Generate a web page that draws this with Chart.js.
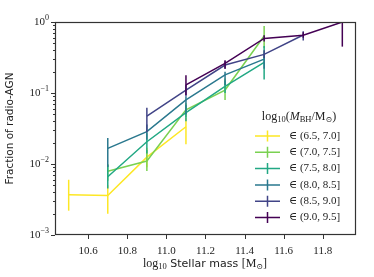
<!DOCTYPE html>
<html>
<head>
<meta charset="utf-8">
<script src="https://cdn.jsdelivr.net/npm/chart.js@4.4.0/dist/chart.umd.min.js"></script>
<style>
  html, body { margin: 0; padding: 0; background: #fff; }
  #wrap { width: 374px; height: 277px; }
</style>
</head>
<body>
<div id="wrap"><canvas id="c"></canvas></div>
<script>
// radio-AGN fraction vs stellar mass, split in black-hole mass bins
const massBins = [10.5, 10.7, 10.9, 11.1, 11.3, 11.5, 11.7, 11.9];
const xTicks = [10.6, 10.8, 11.0, 11.2, 11.4, 11.6, 11.8];
const yTicks = [0.001, 0.01, 0.1, 1];
const yTickExp = ['\u22123', '\u22122', '\u22121', '0'];
const bhBins = ['(6.5, 7.0]', '(7.0, 7.5]', '(7.5, 8.0]', '(8.0, 8.5]', '(8.5, 9.0]', '(9.0, 9.5]'];
const bhColors = ['#fde725', '#7ad151', '#22a884', '#2a788e', '#414487', '#440154'];

// null = empty bin
const frac65 = [0.0037, 0.0036, 0.0125, 0.0335, null, null, null, null];
const lo65   = [0.0022, 0.0020, 0.0090, 0.019, null, null, null, null];
const hi65   = [0.0060, 0.0050, 0.0170, 0.045, null, null, null, null];

const frac70 = [null, 0.0079, 0.011, 0.058, 0.11, 0.635, null, null];
const lo70   = [null, 0.0058, 0.0080, 0.046, 0.08, 0.43, null, null];
const hi70   = [null, 0.0100, 0.0158, 0.072, 0.16, 0.88, null, null];

const frac75 = [null, 0.0066, 0.0206, 0.053, 0.124, 0.27, null, null];
const lo75   = [null, 0.0045, 0.014, 0.040, 0.10, 0.155, null, null];
const hi75   = [null, 0.0097, 0.027, 0.068, 0.15, 0.46, null, null];

const frac80 = [null, 0.0166, 0.0285, 0.080, 0.18, 0.30, null, null];
const lo80   = [null, 0.0091, 0.022, 0.050, 0.13, 0.22, null, null];
const hi80   = [null, 0.0233, 0.036, 0.090, 0.20, 0.36, null, null];

const frac85 = [null, null, 0.0474, 0.11, 0.248, 0.35, 0.656, null];
const lo85   = [null, null, 0.028, 0.09, 0.22, 0.31, 0.55, null];
const hi85   = [null, null, 0.062, 0.13, 0.28, 0.40, 0.74, null];

const frac90 = [null, null, null, 0.13, 0.262, 0.586, 0.65, 1.0];
const lo90   = [null, null, null, 0.094, 0.22, 0.53, 0.60, 0.45];
const hi90   = [null, null, null, 0.178, 0.29, 0.65, 0.72, 1.0];

const fracs = [frac65, frac70, frac75, frac80, frac85, frac90];
const los = [lo65, lo70, lo75, lo80, lo85, lo90];
const his = [hi65, hi70, hi75, hi80, hi85, hi90];

const SERIF = '"Liberation Serif", "DejaVu Serif", serif';
const SANS = '"DejaVu Sans", sans-serif';
const INK = '#222';

const datasets = fracs.map((f, i) => ({
  label: bhBins[i],
  data: massBins.map((m, j) => ({ x: m, y: f[j] })).filter(p => p.y !== null),
  lo: massBins.map((m, j) => ({ x: m, y: los[i][j] })).filter(p => p.y !== null),
  hi: massBins.map((m, j) => ({ x: m, y: his[i][j] })).filter(p => p.y !== null),
  borderColor: bhColors[i],
  borderWidth: 1.5,
  pointRadius: 0,
  fill: false,
  order: bhColors.length - 1 - i, // last bin on top, like matplotlib
}));

// draw a row of text pieces: [text, font, dy]
function drawRuns(ctx, runs, x, y, align) {
  let w = 0;
  runs.forEach(r => { ctx.font = r[1]; w += ctx.measureText(r[0]).width; });
  let cx = align === 'center' ? x - w / 2 : (align === 'right' ? x - w : x);
  ctx.textAlign = 'left';
  runs.forEach(r => {
    ctx.font = r[1];
    ctx.fillText(r[0], cx, y + (r[2] || 0));
    cx += ctx.measureText(r[0]).width;
  });
}

const errorBars = {
  id: 'errorBars',
  afterDatasetDraw(chart, args) {
    const ds = chart.data.datasets[args.index];
    const { ctx, chartArea: a } = chart;
    const xs = chart.scales.x, ys = chart.scales.y;
    ctx.save();
    ctx.beginPath();
    ctx.rect(a.left, a.top, a.right - a.left, a.bottom - a.top);
    ctx.clip();
    ctx.strokeStyle = ds.borderColor;
    ctx.lineWidth = 1.5;
    ds.lo.forEach((p, k) => {
      const px = xs.getPixelForValue(p.x);
      ctx.beginPath();
      ctx.moveTo(px, ys.getPixelForValue(ds.hi[k].y));
      ctx.lineTo(px, ys.getPixelForValue(p.y));
      ctx.stroke();
    });
    ctx.restore();
  },
};

const frame = {
  id: 'frame',
  afterDraw(chart) {
    const { ctx, chartArea: a } = chart;
    const xs = chart.scales.x, ys = chart.scales.y;
    ctx.save();
    ctx.strokeStyle = '#333';
    ctx.lineWidth = 1.2;
    ctx.strokeRect(a.left + 0.5, a.top + 0.5, a.right - a.left - 1, a.bottom - a.top - 1);

    // tick marks
    ctx.lineWidth = 1;
    ctx.beginPath();
    xTicks.forEach(v => {
      const px = Math.round(xs.getPixelForValue(v)) + 0.5;
      ctx.moveTo(px, a.bottom); ctx.lineTo(px, a.bottom + 4);
    });
    for (let d = -3; d < 0; d++) {
      for (let k = 1; k <= 9; k++) {
        const py = Math.round(ys.getPixelForValue(k * Math.pow(10, d))) + 0.5;
        const len = k === 1 ? 4 : 2;
        ctx.moveTo(a.left, py); ctx.lineTo(a.left - len, py);
      }
    }
    const top = Math.round(ys.getPixelForValue(1)) + 0.5;
    ctx.moveTo(a.left, top); ctx.lineTo(a.left - 4, top);
    ctx.stroke();

    // y tick labels
    ctx.fillStyle = INK;
    ctx.textBaseline = 'middle';
    yTicks.forEach((v, i) => {
      const py = ys.getPixelForValue(v);
      drawRuns(ctx, [['10', '11px ' + SERIF, 0], [yTickExp[i], '8px ' + SERIF, -4]], a.left - 6, py, 'right');
    });

    // y title
    ctx.save();
    ctx.translate(10, (a.top + a.bottom) / 2);
    ctx.rotate(-Math.PI / 2);
    ctx.font = '10.5px ' + SANS;
    ctx.textAlign = 'center';
    ctx.fillText('Fraction of radio-AGN', 0, 0);
    ctx.restore();

    // x title
    drawRuns(ctx, [
      ['log', '12px ' + SERIF, 0], ['10', '8.5px ' + SERIF, 3],
      [' Stellar mass ', '11px ' + SANS, 0],
      ['[M', '12px ' + SERIF, 0], ['\u2299', '8px ' + SERIF, 3], [']', '12px ' + SERIF, 0],
    ], 205, 264, 'center');

    // legend
    drawRuns(ctx, [
      ['log', '12px ' + SERIF, 0], ['10', '8.5px ' + SERIF, 3],
      ['(', '12px ' + SERIF, 0], ['M', 'italic 12px ' + SERIF, 0], ['BH', '8.5px ' + SERIF, 3],
      ['/M', '12px ' + SERIF, 0], ['\u2299', '8px ' + SERIF, 3], [')', '12px ' + SERIF, 0],
    ], 299, 117, 'center');
    bhBins.forEach((lab, i) => {
      const y = 136 + i * 16.3;
      ctx.strokeStyle = bhColors[i];
      ctx.lineWidth = 1.5;
      ctx.beginPath();
      ctx.moveTo(255, y); ctx.lineTo(280, y);
      ctx.moveTo(267.5, y - 5.5); ctx.lineTo(267.5, y + 5.5);
      ctx.stroke();
      ctx.fillStyle = INK;
      drawRuns(ctx, [['\u2208 ' + lab, '11px ' + SERIF, 0]], 289, y, 'left');
    });
    ctx.restore();
  },
};

new Chart(document.getElementById('c'), {
  type: 'line',
  data: { datasets },
  options: {
    responsive: true,
    maintainAspectRatio: false,
    animation: false,
    layout: { padding: { top: 22, right: 18, left: 0, bottom: 0 } },
    plugins: { legend: { display: false }, tooltip: { enabled: false } },
    elements: { line: { tension: 0 } },
    scales: {
      x: {
        type: 'linear',
        min: 10.43,
        max: 11.97,
        afterBuildTicks: s => { s.ticks = xTicks.map(v => ({ value: v })); },
        afterFit: s => { s.height = 42; },
        grid: { display: false },
        border: { display: false },
        ticks: { font: { family: SERIF, size: 11 }, color: INK, padding: 2, maxRotation: 0, callback: v => v.toFixed(1) },
      },
      y: {
        type: 'logarithmic',
        min: 0.001,
        max: 1,
        afterBuildTicks: s => { s.ticks = yTicks.map(v => ({ value: v })); },
        afterFit: s => { s.width = 55; },
        grid: { display: false },
        border: { display: false },
        ticks: { display: false },
      },
    },
  },
  plugins: [errorBars, frame],
});
</script>
</body>
</html>
